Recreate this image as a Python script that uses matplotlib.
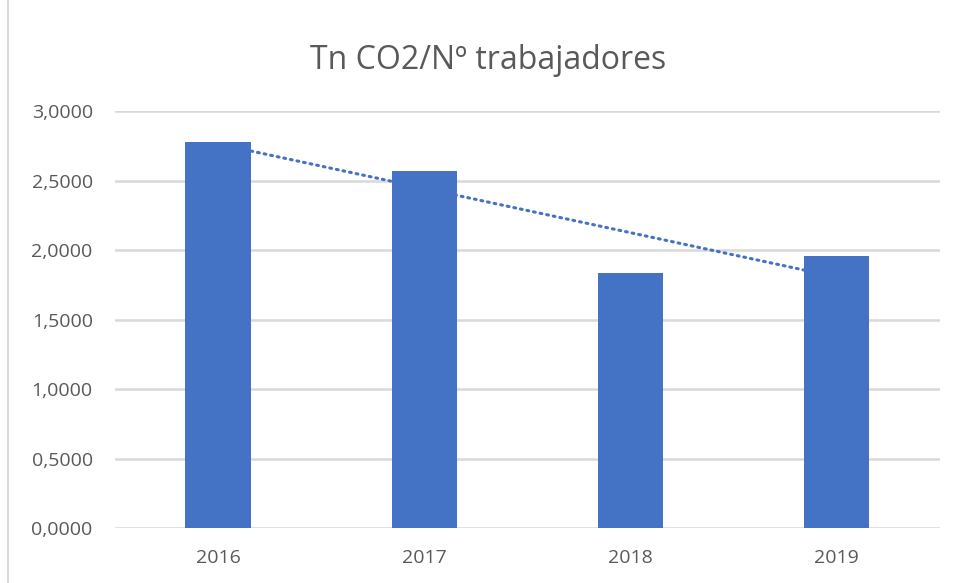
import numpy as np
import matplotlib.pyplot as plt
from matplotlib.ticker import FuncFormatter
from matplotlib.patches import Rectangle

years = ["2016", "2017", "2018", "2019"]
values = [2.777, 2.568, 1.835, 1.957]

fig = plt.figure(figsize=(9.58, 5.83), dpi=100)
ax = fig.add_axes([0.120, 0.0943, 0.861, 0.7153])

x = np.arange(len(years))
ax.bar(x, values, width=0.316, color="#4472C4", zorder=3)

# linear trendline, drawn behind bars
slope, inter = np.polyfit(x, values, 1)
ax.plot(x, slope * x + inter, linestyle=(0, (0.6, 1.6)), color="#4472C4",
        lw=2.2, dash_capstyle="round", zorder=2)

ax.set_xlim(-0.5, 3.5)
ax.set_ylim(0, 3)
ax.set_yticks(np.arange(0, 3.01, 0.5))
ax.yaxis.set_major_formatter(FuncFormatter(lambda v, p: f"{v:.4f}".replace(".", ",")))
ax.set_xticks(x)
ax.set_xticklabels(years)
ax.grid(axis="y", color="#d9d9d9", lw=1.8, zorder=0)
for s in ax.spines.values():
    s.set_visible(False)
ax.tick_params(length=0, labelsize=14, colors="#595959")
ax.tick_params(axis="x", pad=15)
ax.tick_params(axis="y", pad=16)
for lab in ax.get_xticklabels() + ax.get_yticklabels():
    lab.set_fontfamily("Open Sans")

fig.text(0.51, 0.897, "Tn CO2/Nº trabajadores", ha="center", va="center",
         fontsize=23, color="#595959", family="Open Sans")

# chart border
fig.patches.append(Rectangle((0.008, -0.01), 1.5, 1.5, transform=fig.transFigure,
                             fill=False, edgecolor="#d9d9d9", lw=1.5))

fig.savefig("out.png", dpi=100)
